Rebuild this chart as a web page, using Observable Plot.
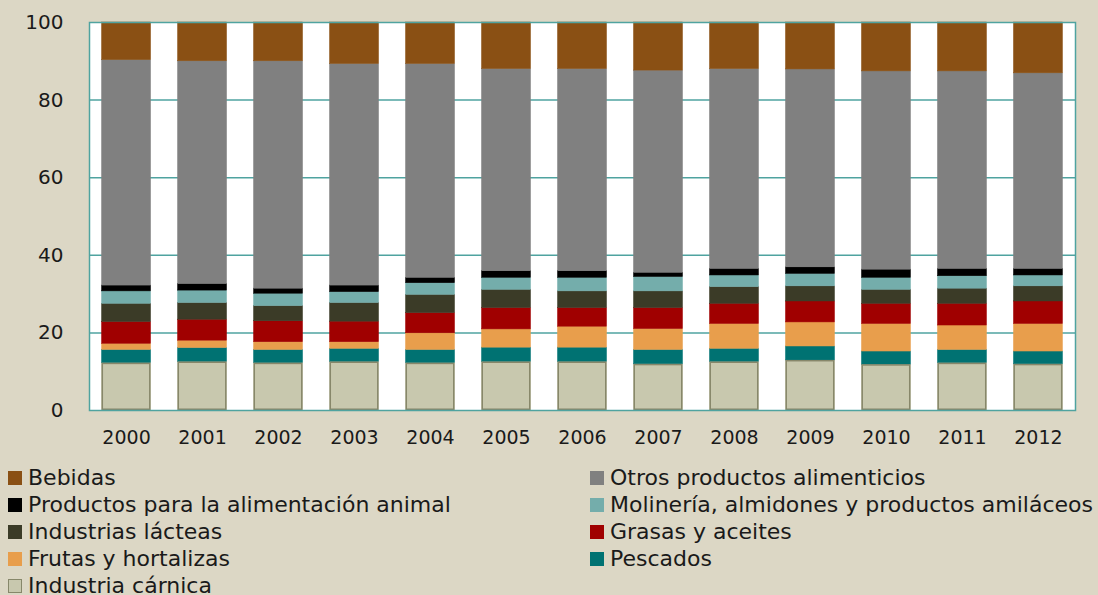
<!DOCTYPE html>
<html><head><meta charset="utf-8">
<script src="https://cdn.jsdelivr.net/npm/d3@7"></script>
<script src="https://cdn.jsdelivr.net/npm/@observablehq/plot@0.6"></script>
<style>
html,body{margin:0;padding:0;background:#dcd7c5;}
#wrap{position:relative;width:1098px;height:595px;overflow:hidden;font-family:"DejaVu Sans",Verdana,sans-serif;}
#chart{position:absolute;left:0;top:0;}
.item{position:absolute;display:flex;align-items:center;font-size:22px;color:#1a1a1a;white-space:nowrap;line-height:1;height:26px;transform:translateY(-50%);}
.sw{width:14px;height:14px;margin-right:6px;box-sizing:border-box;flex:none;}
</style></head><body><div id="wrap"><div id="chart"></div></div>
<script>
const years = ["2000","2001","2002","2003","2004","2005","2006","2007","2008","2009","2010","2011","2012"];

// Series values (% share), bottom to top of each stack
const carnica    = [12.2, 12.5, 12.2, 12.5, 12.2, 12.5, 12.5, 11.9, 12.5, 12.9, 11.8, 12.2, 11.9];
const pescados   = [ 3.4,  3.6,  3.4,  3.4,  3.4,  3.7,  3.7,  3.7,  3.4,  3.6,  3.4,  3.4,  3.3];
const frutas     = [ 1.6,  1.9,  2.0,  1.7,  4.3,  4.7,  5.4,  5.4,  6.4,  6.2,  7.1,  6.3,  7.1];
const grasas     = [ 5.6,  5.4,  5.4,  5.3,  5.2,  5.5,  4.8,  5.4,  5.2,  5.4,  5.2,  5.6,  5.8];
const lacteas    = [ 4.7,  4.3,  3.9,  4.8,  4.7,  4.7,  4.3,  4.3,  4.3,  3.9,  3.6,  3.9,  3.9];
const molineria  = [ 3.2,  3.2,  3.2,  2.8,  3.0,  3.1,  3.5,  3.7,  3.0,  3.2,  3.1,  3.2,  2.8];
const animal     = [ 1.5,  1.7,  1.3,  1.7,  1.4,  1.7,  1.7,  1.1,  1.7,  1.7,  2.1,  1.9,  1.7];
const otros      = [58.1, 57.4, 58.6, 57.1, 55.1, 52.1, 52.1, 52.1, 51.5, 51.0, 51.1, 50.9, 50.4];
const bebidas    = [ 9.7, 10.0, 10.0, 10.7, 10.7, 12.0, 12.0, 12.4, 12.0, 12.1, 12.6, 12.6, 13.1];

// Series names, bottom to top
const seriesNames = [
  "Industria cárnica", "Pescados", "Frutas y hortalizas", "Grasas y aceites",
  "Industrias lácteas", "Molinería, almidones y productos amiláceos",
  "Productos para la alimentación animal", "Otros productos alimenticios", "Bebidas"
];
const seriesValues = [carnica, pescados, frutas, grasas, lacteas, molineria, animal, otros, bebidas];
const seriesColors = ["#c8c8ae", "#007272", "#e89e4c", "#a00000", "#3b3b27", "#74adab", "#000000", "#808080", "#8a5014"];

// Legend order (row-wise, two columns)
const legendOrder = [
  "Bebidas", "Otros productos alimenticios",
  "Productos para la alimentación animal", "Molinería, almidones y productos amiláceos",
  "Industrias lácteas", "Grasas y aceites",
  "Frutas y hortalizas", "Pescados",
  "Industria cárnica"
];
const yTicks = [0, 20, 40, 60, 80, 100];
const gridValues = [20, 40, 60, 80];

const data = [];
seriesNames.forEach((s, i) => years.forEach((y, j) => data.push({year: y, series: s, value: seriesValues[i][j]})));

const teal = "#4fa3a0";
const chart = Plot.plot({
  width: 1098,
  height: 450,
  marginLeft: 89,
  marginRight: 23,
  marginTop: 22,
  marginBottom: 40,
  style: {fontFamily: "DejaVu Sans, Verdana, sans-serif", fontSize: "20px", background: "transparent", color: "#1a1a1a"},
  x: {domain: years, paddingInner: 0.355, paddingOuter: 0.165, round: false, label: null},
  y: {domain: [0, 100], label: null},
  color: {domain: seriesNames, range: seriesColors},
  marks: [
    Plot.frame({fill: "white", stroke: "none"}),
    Plot.ruleY(gridValues, {stroke: teal, strokeWidth: 1.5}),
    Plot.barY(data, {x: "year", y: "value", fill: "series", order: seriesNames, stroke: "series", strokeWidth: 0.5}),
    Plot.barY(data.filter(d => d.series === "Industria cárnica"), {x: "year", y: "value", fill: "#c8c8ae", stroke: "#87876a", strokeWidth: 1.5, inset: 0.75}),
    Plot.frame({stroke: teal, strokeWidth: 1.5}),
    Plot.axisY({ticks: yTicks, tickSize: 0, tickPadding: 26, label: null, fontSize: 20}),
    Plot.axisX({tickSize: 0, tickPadding: 20, label: null, fontSize: 19})
  ]
});
document.getElementById("chart").appendChild(chart);

const wrap = document.getElementById("wrap");
legendOrder.forEach((name, k) => {
  const row = Math.floor(k / 2), col = k % 2;
  const idx = seriesNames.indexOf(name);
  const item = document.createElement("div");
  item.className = "item";
  item.style.left = (col === 0 ? 8 : 590) + "px";
  item.style.top = (478 + 27 * row) + "px";
  const sw = document.createElement("div");
  sw.className = "sw";
  sw.style.background = seriesColors[idx];
  if (name === "Industria cárnica") sw.style.border = "1.5px solid #87876a";
  const tx = document.createElement("span");
  tx.textContent = name;
  item.appendChild(sw);
  item.appendChild(tx);
  wrap.appendChild(item);
});
</script>
</body></html>
